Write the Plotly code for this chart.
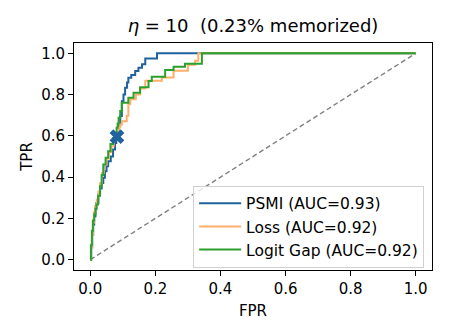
import plotly.graph_objects as go

# ROC step points (fpr, tpr)
psmi_fpr = [0.0, 0.003, 0.006, 0.009, 0.012, 0.016, 0.019, 0.025, 0.030, 0.035, 0.040, 0.045,
            0.050, 0.055, 0.063, 0.070, 0.076, 0.080, 0.084, 0.088, 0.092, 0.097, 0.102, 0.107,
            0.113, 0.117, 0.126, 0.138, 0.148, 0.159, 0.169, 0.205, 1.0]
psmi_tpr = [0.0, 0.06, 0.12, 0.17, 0.21, 0.25, 0.275, 0.316, 0.345, 0.372, 0.397, 0.429,
            0.453, 0.477, 0.50, 0.534, 0.566, 0.59, 0.615, 0.65, 0.696, 0.768, 0.80, 0.833,
            0.858, 0.882, 0.895, 0.914, 0.93, 0.947, 0.975, 1.0, 1.0]

loss_fpr = [0.0, 0.002, 0.005, 0.008, 0.011, 0.015, 0.020, 0.025, 0.030, 0.036, 0.042, 0.050,
            0.057, 0.064, 0.072, 0.080, 0.088, 0.092, 0.097, 0.112, 0.117, 0.123, 0.140, 0.153,
            0.169, 0.220, 0.256, 0.300, 0.322, 0.332, 1.0]
loss_tpr = [0.0, 0.06, 0.12, 0.18, 0.23, 0.26, 0.29, 0.33, 0.37, 0.42, 0.46, 0.49,
            0.52, 0.55, 0.585, 0.615, 0.64, 0.655, 0.671, 0.697, 0.754, 0.778, 0.80, 0.83,
            0.867, 0.883, 0.915, 0.945, 0.964, 1.0, 1.0]

gap_fpr = [0.0, 0.002, 0.005, 0.008, 0.012, 0.016, 0.019, 0.024, 0.030, 0.035, 0.040, 0.047,
           0.055, 0.062, 0.070, 0.076, 0.081, 0.084, 0.087, 0.092, 0.097, 0.117, 0.133, 0.153,
           0.179, 0.189, 0.230, 0.256, 0.291, 0.343, 1.0]
gap_tpr = [0.0, 0.07, 0.14, 0.19, 0.22, 0.245, 0.267, 0.31, 0.356, 0.41, 0.461, 0.494,
           0.526, 0.56, 0.59, 0.615, 0.639, 0.66, 0.688, 0.72, 0.76, 0.785, 0.809, 0.835,
           0.866, 0.887, 0.919, 0.935, 0.95, 1.0, 1.0]

names = ["PSMI (AUC=0.93)", "Loss (AUC=0.92)", "Logit Gap (AUC=0.92)"]
colors = ["#1f629e", "#ffb06a", "#2ca02c"]

chance = [0.0, 1.0]
op_fpr = [0.082]
op_tpr = [0.596]

font = "DejaVu Sans, Liberation Sans, sans-serif"

fig = go.Figure()

fig.add_trace(go.Scatter(x=chance, y=chance, mode="lines", showlegend=False,
                         line=dict(color="#808080", width=1.4, dash="5px,3px")))

for fx, ty, name, c in zip([psmi_fpr, loss_fpr, gap_fpr], [psmi_tpr, loss_tpr, gap_tpr], names, colors):
    fig.add_trace(go.Scatter(x=fx, y=ty, mode="lines", name=name, line_shape="hv",
                             line=dict(color=c, width=2)))

fig.add_trace(go.Scatter(x=op_fpr, y=op_tpr, mode="markers", showlegend=False,
                         marker=dict(symbol="x", size=13, color=colors[0])))

axis = dict(showgrid=False, zeroline=False, showline=True, mirror=True, linecolor="black",
            linewidth=1, ticks="outside", ticklen=5, tickcolor="black", tickwidth=1,
            range=[-0.05, 1.05], tickvals=[0, 0.2, 0.4, 0.6, 0.8, 1.0],
            ticktext=["0.0", "0.2", "0.4", "0.6", "0.8", "1.0"],
            tickfont=dict(size=15, color="black"))

fig.update_xaxes(**axis, title=dict(text="FPR", font=dict(size=15, color="black"), standoff=8))
fig.update_yaxes(**axis, title=dict(text="TPR", font=dict(size=15, color="black"), standoff=4))

# the page body adds an 8px offset, so the figure is drawn 8px smaller
fig.update_layout(
    width=441, height=328,
    margin=dict(l=66, r=17, t=35, b=66),
    plot_bgcolor="white", paper_bgcolor="white",
    font=dict(family=font, color="black"),
    title=dict(text="<i>η</i> = 10\u00a0\u00a0(0.23% memorized)", x=0.5, xref="paper",
               y=0.947, yref="container", yanchor="middle", font=dict(size=18, color="black")),
    legend=dict(x=0.978, y=0.01, xanchor="right", yanchor="bottom",
                bgcolor="rgba(255,255,255,0.8)", bordercolor="#d0d0d0", borderwidth=1,
                font=dict(size=15.5, color="black"), tracegroupgap=0, itemwidth=42),
)

fig.write_html("out.html")
